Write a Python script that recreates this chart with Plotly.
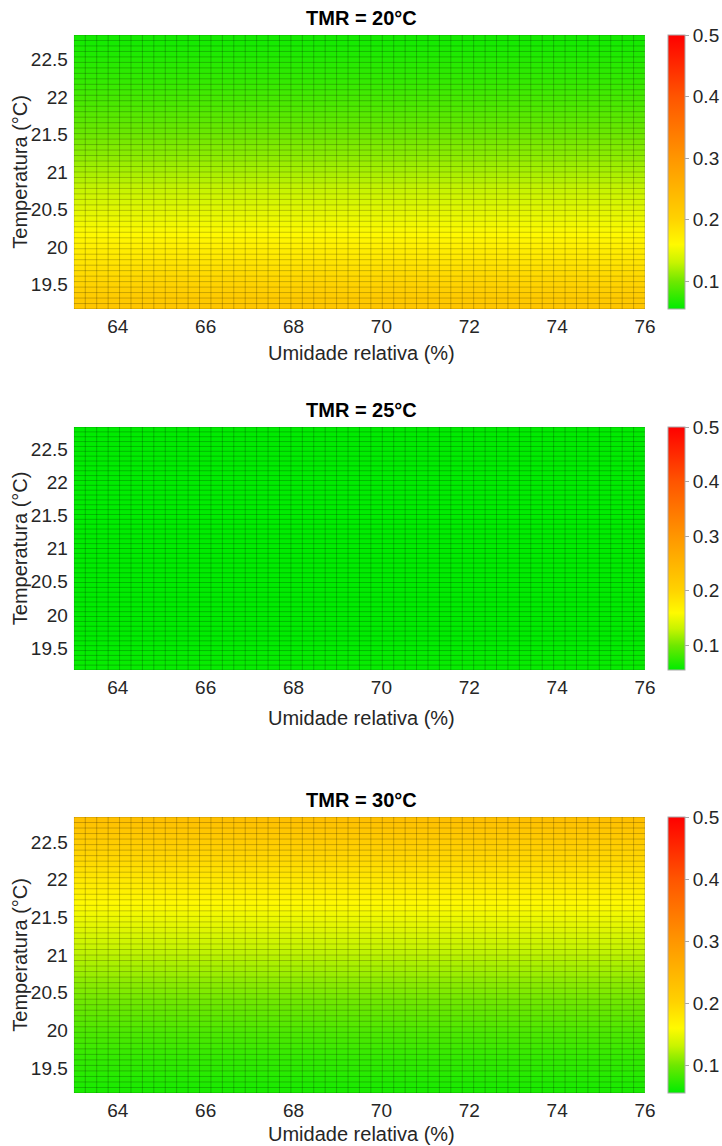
import numpy as np
import plotly.graph_objects as go

# Grid of the simulation: relative humidity (%) and air temperature (°C) cell edges
HUMIDITY_EDGES = np.linspace(63.0, 76.0, 51)
TEMPERATURE_EDGES = np.linspace(19.17, 22.83, 51)

# PPD (fraction) per temperature row, from the coldest row to the warmest
PPD_TMR20 = [0.221, 0.216, 0.211, 0.206, 0.201, 0.197, 0.192, 0.187, 0.183, 0.178,
             0.174, 0.170, 0.166, 0.161, 0.157, 0.153, 0.149, 0.146, 0.142, 0.138,
             0.135, 0.131, 0.128, 0.124, 0.121, 0.118, 0.115, 0.111, 0.108, 0.106,
             0.103, 0.100, 0.097, 0.095, 0.092, 0.090, 0.087, 0.085, 0.083, 0.081,
             0.078, 0.076, 0.074, 0.073, 0.071, 0.069, 0.067, 0.066, 0.064, 0.063]

PPD_TMR25 = [0.058, 0.058, 0.057, 0.057, 0.056, 0.056, 0.055, 0.055, 0.054, 0.054,
             0.053, 0.053, 0.053, 0.052, 0.052, 0.052, 0.051, 0.051, 0.051, 0.051,
             0.051, 0.050, 0.050, 0.050, 0.050, 0.050, 0.050, 0.050, 0.050, 0.050,
             0.050, 0.050, 0.050, 0.050, 0.050, 0.050, 0.051, 0.051, 0.051, 0.051,
             0.052, 0.052, 0.052, 0.052, 0.053, 0.053, 0.053, 0.054, 0.054, 0.055]

PPD_TMR30 = [0.066, 0.067, 0.069, 0.071, 0.073, 0.074, 0.076, 0.078, 0.081, 0.083,
             0.085, 0.087, 0.090, 0.092, 0.095, 0.097, 0.100, 0.103, 0.106, 0.108,
             0.111, 0.115, 0.118, 0.121, 0.124, 0.128, 0.131, 0.135, 0.138, 0.142,
             0.146, 0.149, 0.153, 0.157, 0.161, 0.166, 0.170, 0.174, 0.178, 0.183,
             0.187, 0.192, 0.197, 0.201, 0.206, 0.211, 0.216, 0.221, 0.226, 0.231]

TITLES = ["TMR = 20°C", "TMR = 25°C", "TMR = 30°C"]
X_TICKS = [64, 66, 68, 70, 72, 74, 76]
Y_TICKS = [19.5, 20, 20.5, 21, 21.5, 22, 22.5]
CBAR_TICKS = [0.1, 0.2, 0.3, 0.4, 0.5]
PPD_MIN, PPD_MAX = 0.055, 0.5

W, H = 722, 1146
FONT = "Liberation Sans, Arial, Helvetica, sans-serif"
TXT = "rgb(38,38,38)"

COLORSCALE = [
    [0.00, "rgb(0,236,0)"],
    [0.10, "rgb(110,232,0)"],
    [0.17, "rgb(200,244,0)"],
    [0.235, "rgb(255,250,0)"],
    [0.33, "rgb(255,210,0)"],
    [0.55, "rgb(255,150,0)"],
    [0.775, "rgb(255,85,0)"],
    [1.00, "rgb(255,0,0)"],
]

# pixel boxes of each panel (left, right, top, bottom)
PLOT_L, PLOT_R = 75, 655
PANEL_TB = [(35, 309), (427, 670), (817, 1093)]
XTITLE_Y = [353, 718, 1134]


def fx(px):
    return px / W


def fy(py):
    return 1 - py / H


fig = go.Figure()
annotations = []
series = [PPD_TMR20, PPD_TMR25, PPD_TMR30]

for i, (rows, title, (top, bot), xt_y) in enumerate(
        zip(series, TITLES, PANEL_TB, XTITLE_Y), start=1):
    sfx = "" if i == 1 else str(i)
    z = [[v] * (len(HUMIDITY_EDGES) - 1) for v in rows]
    fig.add_trace(go.Heatmap(
        x=HUMIDITY_EDGES, y=TEMPERATURE_EDGES, z=z,
        coloraxis="coloraxis" + sfx, xaxis="x" + sfx, yaxis="y" + sfx,
        hoverinfo="skip",
    ))

    # cell edges of the surface mesh
    gx, gy = [], []
    for xe in HUMIDITY_EDGES:
        gx += [xe, xe, None]
        gy += [TEMPERATURE_EDGES[0], TEMPERATURE_EDGES[-1], None]
    for ye in TEMPERATURE_EDGES:
        gx += [HUMIDITY_EDGES[0], HUMIDITY_EDGES[-1], None]
        gy += [ye, ye, None]
    fig.add_trace(go.Scatter(
        x=gx, y=gy, mode="lines", xaxis="x" + sfx, yaxis="y" + sfx,
        line=dict(color="rgba(0,0,0,0.22)", width=1),
        hoverinfo="skip", showlegend=False,
    ))

    fig.layout["xaxis" + sfx] = dict(
        domain=[fx(PLOT_L), fx(PLOT_R)], anchor="y" + sfx,
        range=[HUMIDITY_EDGES[0], HUMIDITY_EDGES[-1]],
        tickvals=X_TICKS, ticks="", showgrid=False, zeroline=False,
        showline=False, ticklabelstandoff=4,
        tickfont=dict(family=FONT, size=19, color=TXT),
    )
    fig.layout["yaxis" + sfx] = dict(
        domain=[fy(bot), fy(top)], anchor="x" + sfx,
        range=[TEMPERATURE_EDGES[0], TEMPERATURE_EDGES[-1]],
        tickvals=Y_TICKS, ticktext=[f"{t:g}" for t in Y_TICKS],
        ticks="", showgrid=False, zeroline=False, showline=False,
        ticklabelstandoff=5,
        tickfont=dict(family=FONT, size=19, color=TXT),
    )
    fig.layout["coloraxis" + sfx] = dict(
        colorscale=COLORSCALE, cmin=PPD_MIN, cmax=PPD_MAX,
        colorbar=dict(
            x=fx(678), xanchor="left", xref="paper",
            y=fy((top + bot) / 2), yanchor="middle",
            lenmode="pixels", len=bot - top, thickness=17,
            xpad=0, ypad=0,
            outlinewidth=1, outlinecolor="rgb(170,170,170)",
            tickvals=CBAR_TICKS, ticks="outside", ticklen=4,
            tickcolor="rgba(130,130,130,0.7)",
            tickfont=dict(family=FONT, size=19, color=TXT),
        ),
    )

    annotations.append(dict(
        text="<b>" + title + "</b>", x=fx((PLOT_L + PLOT_R) / 2 + 2), y=fy(top - 17),
        xref="paper", yref="paper", xanchor="center", yanchor="middle",
        showarrow=False, font=dict(family=FONT, size=20, color="black"),
    ))
    annotations.append(dict(
        text="Umidade relativa (%)", x=fx((PLOT_L + PLOT_R) / 2 + 2), y=fy(xt_y),
        xref="paper", yref="paper", xanchor="center", yanchor="middle",
        showarrow=False, font=dict(family=FONT, size=20, color=TXT),
    ))
    annotations.append(dict(
        text="Temperatura (°C)", x=fx(20), y=fy((top + bot) / 2),
        xref="paper", yref="paper", xanchor="center", yanchor="middle",
        textangle=-90, showarrow=False,
        font=dict(family=FONT, size=20, color=TXT),
    ))

fig.update_layout(
    width=W, height=H, margin=dict(l=0, r=0, t=0, b=0),
    paper_bgcolor="white", plot_bgcolor="white",
    showlegend=False, annotations=annotations,
)

fig.write_html("out.html")
